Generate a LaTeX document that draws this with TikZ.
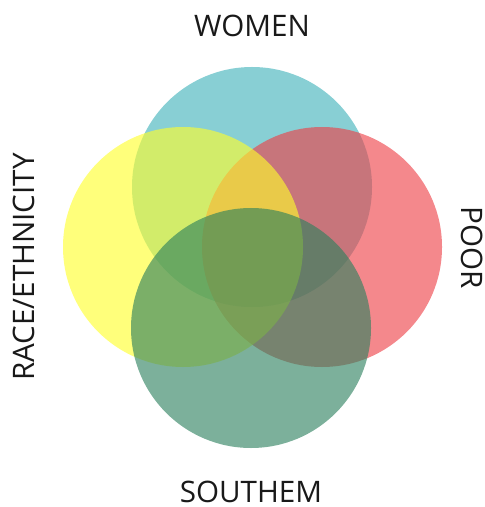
\documentclass[tikz,border=0pt]{standalone}
\usepackage{fontspec}
\setmainfont{Open Sans}
\usepackage{tikz}
\usetikzlibrary{positioning}
\definecolor{womencol}{RGB}{63,178,185}
\definecolor{racecol}{RGB}{255,255,42}
\definecolor{poorcol}{RGB}{237,63,70}
\definecolor{southcol}{RGB}{43,128,93}

\tikzset{
    venn/.style={circle, minimum size=120pt, inner sep=0pt, fill opacity=0.62},
    label/.style={font=\fontsize{14.8}{17}\selectfont, text=black!90}
}

\begin{document}
\begin{tikzpicture}[x=0.5pt, y=-0.5pt]
    \useasboundingbox (0,0) rectangle (485,507);

    % Circles
    \node[venn, fill=womencol] (women) at (252,187) {};
    \node[venn, fill=poorcol] (poor) at (322,247) {};
    \node[venn, fill=racecol] (race) at (183,247) {};
    \node[venn, fill=southcol] (south) at (251,328) {};

    % Labels
    \node[label] (womenlab) at (252,26) {WOMEN};
    \node[label, rotate=90] (racelab) at (24,267) {RACE/ETHNICITY};
    \node[label, rotate=-90] (poorlab) at (472,248) {POOR};
    \node[label] (southlab) at (251,492) {SOUTHEM};
\end{tikzpicture}
\end{document}
